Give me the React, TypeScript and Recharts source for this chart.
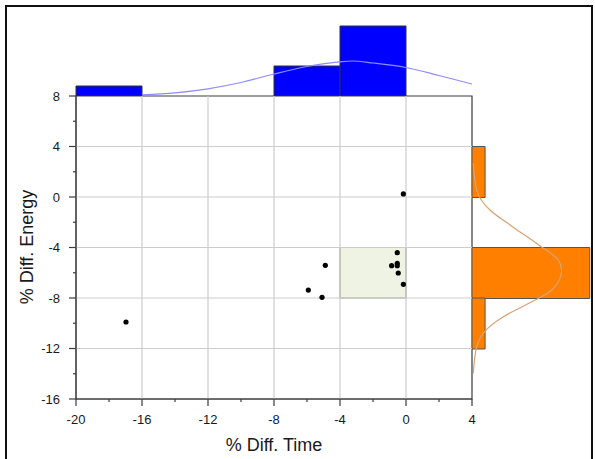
import {
  Bar,
  BarChart,
  ReferenceArea,
  ReferenceLine,
  Scatter,
  ScatterChart,
  XAxis,
  YAxis,
} from "recharts";

// scatter points
const diffTime = [-16.97, -5.92, -5.09, -4.89, -0.87, -0.53, -0.53, -0.53, -0.47, -0.16, -0.16];
const diffEnergy = [-9.9, -7.37, -7.95, -5.41, -5.44, -4.41, -5.25, -5.44, -6.02, -6.92, 0.24];

// marginal histograms (bin width 4)
const timeBins = ["-20–-16", "-16–-12", "-12–-8", "-8–-4", "-4–0", "0–4"];
const timeCounts = [1, 0, 0, 3, 7, 0];
const energyBins = ["4–8", "0–4", "-4–0", "-8–-4", "-12–-8", "-16–-12"];
const energyCounts = [0, 1, 0, 9, 1, 0];

// fitted curves
const timeCurveX = [-16, -14, -12, -10, -8, -6, -4, -3.25, -2, 0, 2, 4];
const timeCurveN = [0.12, 0.32, 0.72, 1.35, 2.2, 2.95, 3.42, 3.5, 3.3, 2.85, 2.05, 1.2];
const energyCurveY = [-13.97, -11.86, -10.5, -9.48, -8.42, -7.37, -5.8, -5.0, -3.8, -2.35, -1.03, 0.55, 2.67];
const energyCurveN = [0.1, 0.36, 1.1, 2.4, 4.35, 6.1, 6.85, 6.6, 5.1, 3.1, 1.37, 0.36, 0.1];

const xTicks = [-20, -18, -16, -14, -12, -10, -8, -6, -4, -2, 0, 2, 4];
const yTicks = [-16, -14, -12, -10, -8, -6, -4, -2, 0, 2, 4, 6, 8];
const xGrid = [-16, -12, -8, -4, 0];
const yGrid = [-12, -8, -4, 0, 4];

const points = diffTime.map((x, i) => ({ x, y: diffEnergy[i] }));
const timeHist = timeBins.map((bin, i) => ({ bin, n: timeCounts[i] }));
const energyHist = energyBins.map((bin, i) => ({ bin, n: energyCounts[i] }));
const timeCurve = timeCurveX.map((x, i) => ({ x, n: timeCurveN[i] }));
const energyCurve = energyCurveY.map((y, i) => ({ y, n: energyCurveN[i] }));

const axisColor = "#3c3c3c";
const textColor = "#1a1a1a";

const isMajor = (v: number) => v % 4 === 0;
const Dot = (p: any) => <circle cx={p.cx} cy={p.cy} r={2.6} fill="#000" />;
const NoDot = () => <g />;

// ticks drawn by hand so major and minor get different lengths
const XTick = (p: any) => {
  const v = p.payload.value;
  const big = isMajor(v);
  return (
    <g>
      <line x1={p.x} x2={p.x} y1={p.y} y2={p.y + (big ? 7 : 3)} stroke={axisColor} strokeWidth={1.2} />
      {big && (
        <text x={p.x} y={p.y + 25} textAnchor="middle" fontSize={13} fill={textColor}>
          {v}
        </text>
      )}
    </g>
  );
};

const YTick = (p: any) => {
  const v = p.payload.value;
  const big = isMajor(v);
  return (
    <g>
      <line x1={p.x} x2={p.x - (big ? 7 : 3)} y1={p.y} y2={p.y} stroke={axisColor} strokeWidth={1.2} />
      {big && (
        <text x={p.x - 16} y={p.y + 4.6} textAnchor="end" fontSize={13} fill={textColor}>
          {v}
        </text>
      )}
    </g>
  );
};

export default function App() {
  return (
    <div
      style={{
        position: "fixed",
        left: 0,
        top: 0,
        width: 595,
        height: 459,
        overflow: "hidden",
        background: "#fff",
        fontFamily: "'Liberation Sans', Arial, sans-serif",
      }}
    >
      <div
        style={{
          position: "absolute",
          left: 5,
          top: 5,
          width: 584,
          height: 500,
          border: "2px solid #111",
        }}
      />

      {/* main scatter */}
      <div style={{ position: "absolute", left: 0, top: 0 }}>
        <ScatterChart width={595} height={459} margin={{ top: 96, right: 123, bottom: 30, left: 16 }}>
          <XAxis
            type="number"
            dataKey="x"
            domain={[-20, 4]}
            ticks={xTicks}
            interval={0}
            allowDataOverflow
            height={30}
            tickSize={0}
            tickMargin={0}
            tickLine={false}
            stroke={axisColor}
            tick={XTick}
          />
          <YAxis
            type="number"
            dataKey="y"
            domain={[-16, 8]}
            ticks={yTicks}
            interval={0}
            allowDataOverflow
            width={60}
            tickSize={0}
            tickMargin={0}
            tickLine={false}
            stroke={axisColor}
            tick={YTick}
          />
          {xGrid.map((v) => (
            <ReferenceLine key={"gx" + v} x={v} stroke="#cdcdcd" strokeWidth={1.2} />
          ))}
          {yGrid.map((v) => (
            <ReferenceLine key={"gy" + v} y={v} stroke="#cdcdcd" strokeWidth={1.2} />
          ))}
          <ReferenceArea x1={-4} x2={0} y1={-8} y2={-4} fill="#eff3e3" fillOpacity={1} stroke="#8e9c7e" strokeWidth={1.2} />
          <ReferenceArea x1={-20} x2={4} y1={-16} y2={8} fill="none" stroke={axisColor} strokeWidth={1.2} />
          <Scatter data={points} shape={Dot} isAnimationActive={false} />
        </ScatterChart>
      </div>

      {/* top histogram */}
      <div style={{ position: "absolute", left: 0, top: 0 }}>
        <BarChart
          width={595}
          height={96}
          data={timeHist}
          margin={{ top: 0, right: 123, bottom: 0, left: 76 }}
          barCategoryGap={0}
          barGap={0}
        >
          <XAxis dataKey="bin" hide />
          <YAxis domain={[0, 9.6]} hide allowDataOverflow />
          <Bar dataKey="n" fill="#0000ff" stroke="#333" strokeWidth={1} isAnimationActive={false} />
        </BarChart>
      </div>
      <div style={{ position: "absolute", left: 0, top: 0 }}>
        <ScatterChart width={595} height={96} margin={{ top: 0, right: 123, bottom: 0, left: 76 }}>
          <XAxis type="number" dataKey="x" domain={[-20, 4]} hide allowDataOverflow />
          <YAxis type="number" dataKey="n" domain={[0, 9.6]} hide allowDataOverflow />
          <Scatter
            data={timeCurve}
            shape={NoDot}
            line={{ stroke: "#8c8cff", strokeWidth: 1.2 }}
            lineJointType="monotoneX"
            isAnimationActive={false}
          />
        </ScatterChart>
      </div>

      {/* right histogram */}
      <div style={{ position: "absolute", left: 472, top: 96 }}>
        <BarChart
          width={123}
          height={303}
          data={energyHist}
          layout="vertical"
          margin={{ top: 0, right: 0, bottom: 0, left: 0 }}
          barCategoryGap={0}
          barGap={0}
        >
          <XAxis type="number" domain={[0, 9.4]} hide allowDataOverflow />
          <YAxis type="category" dataKey="bin" hide />
          <Bar dataKey="n" fill="#ff8000" stroke="#555" strokeWidth={1} isAnimationActive={false} />
        </BarChart>
      </div>
      <div style={{ position: "absolute", left: 472, top: 96 }}>
        <ScatterChart width={123} height={303} margin={{ top: 0, right: 0, bottom: 0, left: 0 }}>
          <XAxis type="number" dataKey="n" domain={[0, 9.4]} hide allowDataOverflow />
          <YAxis type="number" dataKey="y" domain={[-16, 8]} hide allowDataOverflow />
          <Scatter
            data={energyCurve}
            shape={NoDot}
            line={{ stroke: "#d9a273", strokeWidth: 1.2 }}
            lineJointType="monotoneY"
            isAnimationActive={false}
          />
        </ScatterChart>
      </div>

      {/* axis titles */}
      <div
        style={{
          position: "absolute",
          left: 76,
          width: 396,
          top: 435,
          textAlign: "center",
          fontSize: 18,
          color: textColor,
        }}
      >
        % Diff. Time
      </div>
      <div
        style={{
          position: "absolute",
          left: 27,
          top: 247,
          transform: "translate(-50%, -50%) rotate(-90deg)",
          whiteSpace: "nowrap",
          fontSize: 18,
          color: textColor,
        }}
      >
        % Diff. Energy
      </div>
    </div>
  );
}
